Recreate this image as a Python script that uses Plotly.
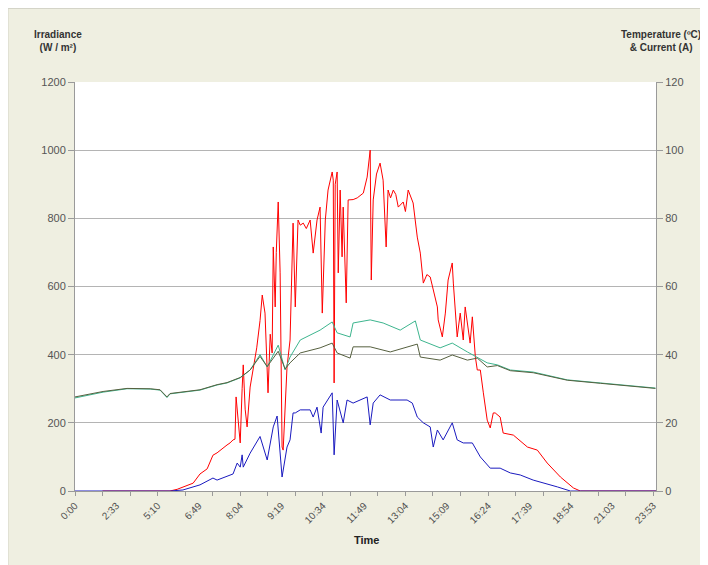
import plotly.graph_objects as go

# ---- tick labels (category axis, one label every 150 samples) ----
time_labels = ["0:00", "2:33", "5:10", "6:49", "8:04", "9:19", "10:34", "11:49",
               "13:04", "15:09", "16:24", "17:39", "18:54", "21:03", "23:53"]
samples_per_label = 150
samples_per_tick = 100
n_samples = 2110

# ---- Irradiance (W/m2), left axis ----
irr_idx = [100, 345, 371, 429, 454, 480, 501, 516, 552, 563, 574, 581, 585, 592, 600, 607, 611, 618,
           625, 636, 647, 660, 672, 680, 690, 701, 709, 716, 720, 727, 731, 734, 738, 745, 752, 756, 763, 770,
           781, 792, 800, 810, 818, 829, 840, 854, 865, 879, 890, 898, 909, 919, 934, 938, 941, 945,
           952, 956, 963, 970, 974, 985, 992, 1010, 1025, 1047, 1061, 1072, 1076, 1083, 1095, 1108,
           1119, 1130, 1137, 1146, 1156, 1165, 1174, 1192, 1200, 1210, 1228, 1243, 1254, 1265, 1278, 1290, 1316, 1319,
           1334, 1345, 1355, 1370, 1374, 1388, 1399, 1410, 1417, 1435, 1443, 1454, 1461, 1472, 1483,
           1497, 1508, 1519, 1526, 1544, 1555, 1592, 1643, 1679, 1715, 1763, 1810, 1835, 2110]
irr_val = [0, 0, 5, 23, 50, 65, 105, 112, 135, 141, 150, 152, 276, 200, 141, 300, 370, 240,
           188, 305, 364, 420, 500, 575, 522, 288, 460, 405, 716, 540, 700, 760, 848, 640, 129, 120, 250, 364,
           443, 786, 540, 795, 780, 786, 770, 795, 698, 795, 833, 522, 795, 883, 936, 912, 317, 900,
           936, 640, 883, 687, 833, 552, 854, 855, 860, 874, 921, 1000, 619, 854, 930, 962,
           912, 716, 883, 860, 883, 870, 833, 848, 820, 883, 845, 745, 698, 610, 635, 628, 540, 502,
           452, 522, 619, 669, 610, 452, 522, 443, 540, 434, 511, 393, 355, 355, 288,
           208, 185, 229, 229, 217, 170, 164, 129, 120, 82, 41, 9, 0, 0]

# ---- Current (A), right axis ----
cur_idx = [0, 345, 392, 429, 454, 501, 516, 574, 589, 600, 607, 611, 625, 636, 672, 698, 720, 734,
           752, 770, 781, 792, 800, 818, 854, 865, 879, 894, 901, 934, 941, 952, 974, 988, 1010,
           1061, 1072, 1083, 1108, 1145, 1206, 1225, 1243, 1265, 1290, 1301, 1316, 1337, 1370,
           1388, 1410, 1443, 1472, 1508, 1544, 1581, 1617, 1664, 1752, 1799, 2110]
cur_val = [0, 0, 0.3, 1.2, 1.8, 3.8, 3.2, 5.0, 8.2, 7.0, 10.6, 7.0, 9.1, 11.1, 16.0, 9.1, 18.8, 22.0,
           4.1, 12.9, 15.0, 22.9, 22.9, 23.8, 23.8, 21.7, 24.6, 17.0, 24.6, 28.8, 10.6, 26.7, 20.0, 26.7, 25.8,
           27.6, 19.4, 25.8, 28.2, 26.7, 26.7, 25.8, 21.7, 20.0, 18.8, 12.9, 17.9, 15.0, 20.0,
           15.0, 14.1, 14.1, 10.0, 6.7, 6.7, 5.3, 4.7, 3.2, 1.2, 0, 0]

# ---- Module temperature (deg C), right axis ----
tmod_idx = [0, 102, 189, 273, 309, 334, 345, 392, 454, 516, 552, 600, 636, 672, 698, 738, 763, 781,
            818, 890, 934, 952, 999, 1010, 1072, 1119, 1181, 1236, 1254, 1326, 1370, 1425, 1461,
            1497, 1534, 1581, 1664, 1788, 1908, 2028, 2108]
tmod_val = [27.3, 29.0, 30.0, 29.9, 29.6, 27.4, 28.5, 29.0, 29.6, 31.1, 31.7, 33.2, 35.5, 40.0, 36.4, 42.8, 35.5, 39.3,
            44.3, 47.2, 49.6, 46.4, 45.2, 49.3, 50.2, 49.3, 47.2, 49.9, 44.3, 42.0, 43.4, 40.8, 39.3,
            37.6, 37.0, 35.5, 34.9, 32.6, 31.7, 30.8, 30.2]

# ---- Second temperature (deg C), right axis ----
tamb_idx = [0, 102, 189, 273, 309, 334, 345, 392, 454, 516, 552, 600, 636, 672, 698, 738, 763, 781,
            818, 890, 934, 952, 999, 1010, 1072, 1145, 1243, 1254, 1326, 1370, 1425, 1461, 1497,
            1534, 1581, 1664, 1788, 1908, 2028, 2108]
tamb_val = [27.6, 29.2, 30.1, 30.0, 29.7, 27.6, 28.6, 29.1, 29.7, 31.2, 31.8, 33.3, 35.5, 39.5, 36.5, 41.0, 35.8, 37.6,
            40.5, 42.0, 43.4, 40.5, 39.0, 42.3, 42.3, 40.8, 43.1, 39.3, 38.4, 39.9, 38.4, 39.0, 36.4,
            36.8, 35.3, 34.7, 32.5, 31.6, 30.7, 30.1]

FONT = "Liberation Sans, Arial, sans-serif"
GRID = "#B4B4B4"
AXIS = "#9A9A9A"

fig = go.Figure()
fig.add_trace(go.Scatter(x=tmod_idx, y=tmod_val, yaxis="y2", mode="lines",
                         line=dict(color="#3DB58E", width=1), name="Module temp"))
fig.add_trace(go.Scatter(x=tamb_idx, y=tamb_val, yaxis="y2", mode="lines",
                         line=dict(color="#56603F", width=1), name="Temp"))
fig.add_trace(go.Scatter(x=irr_idx, y=irr_val, mode="lines",
                         line=dict(color="#FF0000", width=1), name="Irradiance"))
fig.add_trace(go.Scatter(x=cur_idx, y=cur_val, yaxis="y2", mode="lines",
                         line=dict(color="#1A1ABF", width=1), name="Current"))

tick_pos = [i * samples_per_label for i in range(len(time_labels))]
minor_pos = list(range(0, n_samples, samples_per_tick))

PW, PH = 581, 409  # plot area size in px (used to place title texts)

fig.update_layout(
    width=700, height=557,
    margin=dict(l=67, r=52, t=74, b=74),
    paper_bgcolor="#EFEFE1",
    plot_bgcolor="#FFFFFF",
    showlegend=False,
    font=dict(family=FONT, size=11, color="#555555"),
    xaxis=dict(range=[0, n_samples], tickmode="array", tickvals=tick_pos, ticktext=time_labels,
               tickangle=-45, tickfont=dict(size=10, color="#505050"),
               showgrid=False, zeroline=False, showline=True, linecolor=AXIS, linewidth=1,
               ticks="outside", ticklen=4, tickcolor="rgba(0,0,0,0)",
               minor=dict(tickmode="array", tickvals=minor_pos, ticks="outside", ticklen=4,
                          tickcolor=AXIS, showgrid=False)),
    yaxis=dict(range=[0, 1200], dtick=200, showgrid=True, gridcolor=GRID, gridwidth=1,
               zeroline=False, showline=True, linecolor=AXIS, ticks="outside", ticklen=6,
               tickcolor=AXIS, tickfont=dict(size=11, color="#555555")),
    yaxis2=dict(range=[0, 120], dtick=20, overlaying="y", side="right", showgrid=False,
                zeroline=False, showline=True, linecolor=AXIS, ticks="outside", ticklen=6,
                tickcolor=AXIS, tickfont=dict(size=11, color="#555555")),
    shapes=[
        dict(type="line", xref="paper", yref="paper", x0=-67 / PW, x1=-67 / PW,
             y0=-74 / PH, y1=1 + 74 / PH, line=dict(color="#D4D4C8", width=1)),
        dict(type="line", xref="paper", yref="paper", x0=-67 / PW, x1=1 + 52 / PW,
             y0=1 + 73.5 / PH, y1=1 + 73.5 / PH, line=dict(color="#D4D4C8", width=1)),
    ],
    annotations=[
        dict(text="<b>Irradiance<br>(W / m²)</b>", xref="paper", yref="paper",
             x=-17 / PW, y=1 + 41 / PH, xanchor="center", yanchor="middle",
             showarrow=False, font=dict(size=10, color="#333333", family=FONT)),
        dict(text="<b>Temperature (ºC)<br>& Current (A)</b>", xref="paper", yref="paper",
             x=1 + 5 / PW, y=1 + 41 / PH, xanchor="center", yanchor="middle",
             showarrow=False, font=dict(size=10, color="#333333", family=FONT)),
        dict(text="<b>Time</b>", xref="paper", yref="paper",
             x=291 / PW, y=-49 / PH, xanchor="center", yanchor="middle",
             showarrow=False, font=dict(size=11, color="#222222", family=FONT)),
    ],
)

fig.write_html("out.html")
